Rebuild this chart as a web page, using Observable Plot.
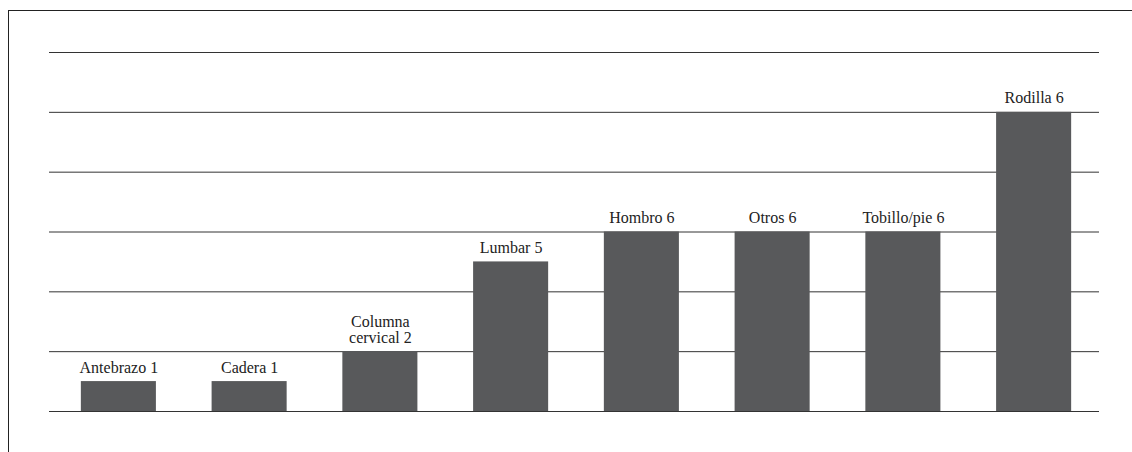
<!DOCTYPE html>
<html>
<head>
<meta charset="utf-8">
<script src="https://cdn.jsdelivr.net/npm/d3@7"></script>
<script src="https://cdn.jsdelivr.net/npm/@observablehq/plot@0.6"></script>
<style>
  html, body { margin: 0; padding: 0; background: #fff; }
  #wrap { position: relative; width: 1132px; height: 452px; overflow: hidden; }
  #frame { position: absolute; left: 8px; top: 10px; width: 1200px; height: 500px;
           border-top: 1px solid #222; border-left: 1px solid #222; box-sizing: border-box; pointer-events: none; }
  svg { display: block; }
</style>
</head>
<body>
<div id="wrap"><div id="frame"></div></div>
<script>
const categories = ["Antebrazo", "Cadera", "Columna cervical", "Lumbar", "Hombro", "Otros", "Tobillo/pie", "Rodilla"];
const values = [1, 1, 2, 5, 6, 6, 6, 10];
const labels = ["Antebrazo 1", "Cadera 1", "Columna\ncervical 2", "Lumbar 5", "Hombro 6", "Otros 6", "Tobillo/pie 6", "Rodilla 6"];
const gridTicks = [0, 2, 4, 6, 8, 10, 12];

const data = categories.map((c, i) => ({category: c, value: values[i], label: labels[i]}));

const chart = Plot.plot({
  width: 1132,
  height: 452,
  marginTop: 52,
  marginBottom: 41,
  marginLeft: 49,
  marginRight: 33,
  style: {background: "transparent", fontFamily: "'Liberation Serif', serif"},
  x: {type: "band", domain: categories, paddingInner: 0.426, paddingOuter: 0.213, insetLeft: 4, round: false, axis: null},
  y: {domain: [0, 12], axis: null},
  marks: [
    Plot.ruleY(gridTicks, {stroke: "#333", strokeWidth: 1}),
    Plot.barY(data, {x: "category", y: "value", fill: "#58595b"}),
    Plot.text(data, {x: "category", y: "value", text: "label", lineAnchor: "bottom", dy: -9,
      fontSize: 16, fill: "#222", lineHeight: 1.0})
  ]
});
document.getElementById("wrap").prepend(chart);
</script>
</body>
</html>
